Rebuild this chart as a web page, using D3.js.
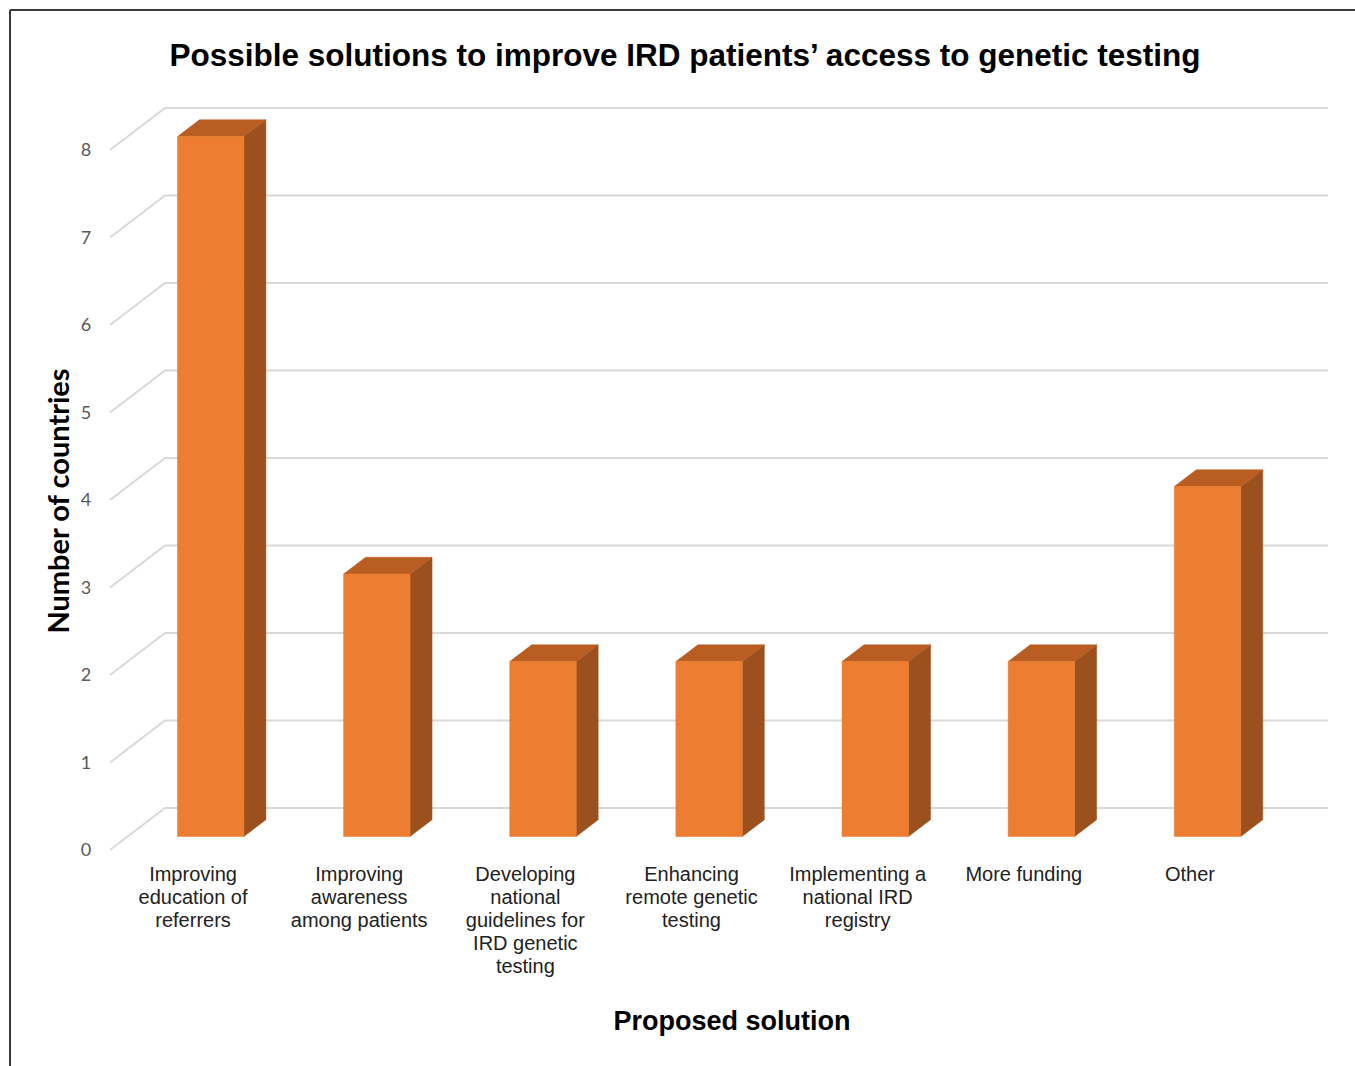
<!DOCTYPE html>
<html>
<head>
<meta charset="utf-8">
<script src="https://cdn.jsdelivr.net/npm/d3@7/dist/d3.min.js"></script>
<style>
  html, body { margin: 0; padding: 0; background: #fff; }
  svg { display: block; }
</style>
</head>
<body>
<svg id="chart" width="1355" height="1066"></svg>
<script>
// Survey responses: number of countries proposing each solution
const categories = [
  ["Improving", "education of", "referrers"],
  ["Improving", "awareness", "among patients"],
  ["Developing", "national", "guidelines for", "IRD genetic", "testing"],
  ["Enhancing", "remote genetic", "testing"],
  ["Implementing a", "national IRD", "registry"],
  ["More funding"],
  ["Other"]
];
const counts = [8, 3, 2, 2, 2, 2, 4];
const yTicks = [0, 1, 2, 3, 4, 5, 6, 7, 8];

const svg = d3.select("#chart");
const W = 1355, H = 1066;

// 3D depth: floor recedes right and up
const depthX = 55, depthY = 42;
const barFront = 0.32, barBack = 0.72;

const keys = categories.map((c, i) => "c" + i);
const x = d3.scaleBand().domain(keys).range([110, 1273]).paddingInner(0.6).paddingOuter(0.3);
const y = d3.scaleLinear().domain([0, 8]).range([850, 150]);

const P = (px, v, d) => [px + depthX * d, y(v) - depthY * d];

// Frame lines
svg.append("line").attr("x1", 10).attr("y1", 10).attr("x2", W).attr("y2", 10)
  .attr("stroke", "#3a3a3a").attr("stroke-width", 2);
svg.append("line").attr("x1", 10).attr("y1", 10).attr("x2", 10).attr("y2", H)
  .attr("stroke", "#3a3a3a").attr("stroke-width", 2);

// Gridlines: diagonal on the side wall, horizontal on the back wall
const grid = svg.append("g").attr("stroke", "#d9d9d9").attr("stroke-width", 2).attr("fill", "none");
yTicks.forEach(v => {
  const a = P(110, v, 0);
  const b = P(110, v, 1);
  const c = P(1273, v, 1);
  grid.append("polyline").attr("points", [a, b, c].map(p => p.join(",")).join(" "));
});

// Tick labels
svg.append("g").selectAll("text").data(yTicks).join("text")
  .attr("x", 86).attr("y", d => y(d))
  .attr("dy", "0.36em")
  .attr("text-anchor", "middle")
  .attr("font-family", "Lato, 'Open Sans', sans-serif")
  .attr("font-size", 18)
  .attr("fill", "#595959")
  .text(d => d);

// Bars as prisms
const bars = svg.append("g");
counts.forEach((v, i) => {
  const x0 = x(keys[i]);
  const x1 = x0 + x.bandwidth();
  const fTL = P(x0, v, barFront), fTR = P(x1, v, barFront);
  const fBL = P(x0, 0, barFront), fBR = P(x1, 0, barFront);
  const bTL = P(x0, v, barBack), bTR = P(x1, v, barBack), bBR = P(x1, 0, barBack);
  const poly = (pts, fill) => bars.append("polygon")
    .attr("points", pts.map(p => p.join(",")).join(" "))
    .attr("fill", fill).attr("stroke", fill).attr("stroke-width", 0.5);
  poly([fTR, bTR, bBR, fBR], "#9b501d");
  poly([fTL, bTL, bTR, fTR], "#b95d22");
  poly([fTL, fTR, fBR, fBL], "#ed7d31");
});

// Category labels
const labels = svg.append("g")
  .attr("font-family", "'Liberation Sans', Arial, sans-serif")
  .attr("font-size", 20)
  .attr("fill", "#222")
  .attr("text-anchor", "middle");
categories.forEach((lines, i) => {
  const cx = x(keys[i]) + x.bandwidth() / 2;
  const t = labels.append("text").attr("x", cx).attr("y", 881);
  lines.forEach((ln, j) => {
    t.append("tspan").attr("x", cx).attr("dy", j === 0 ? 0 : 23).text(ln);
  });
});

// Titles
svg.append("text")
  .attr("x", 685).attr("y", 66)
  .attr("text-anchor", "middle")
  .attr("font-family", "'Liberation Sans', Arial, sans-serif")
  .attr("font-weight", "bold").attr("font-size", 31.5)
  .attr("fill", "#000")
  .text("Possible solutions to improve IRD patients’ access to genetic testing");

svg.append("text")
  .attr("x", 732).attr("y", 1030)
  .attr("text-anchor", "middle")
  .attr("font-family", "'Liberation Sans', Arial, sans-serif")
  .attr("font-weight", "bold").attr("font-size", 27)
  .attr("fill", "#000")
  .text("Proposed solution");

svg.append("text")
  .attr("transform", "translate(69,501) rotate(-90)")
  .attr("text-anchor", "middle")
  .attr("font-family", "Lato, 'Open Sans', sans-serif")
  .attr("font-weight", "bold").attr("font-size", 29)
  .attr("fill", "#000")
  .text("Number of countries");
</script>
</body>
</html>
